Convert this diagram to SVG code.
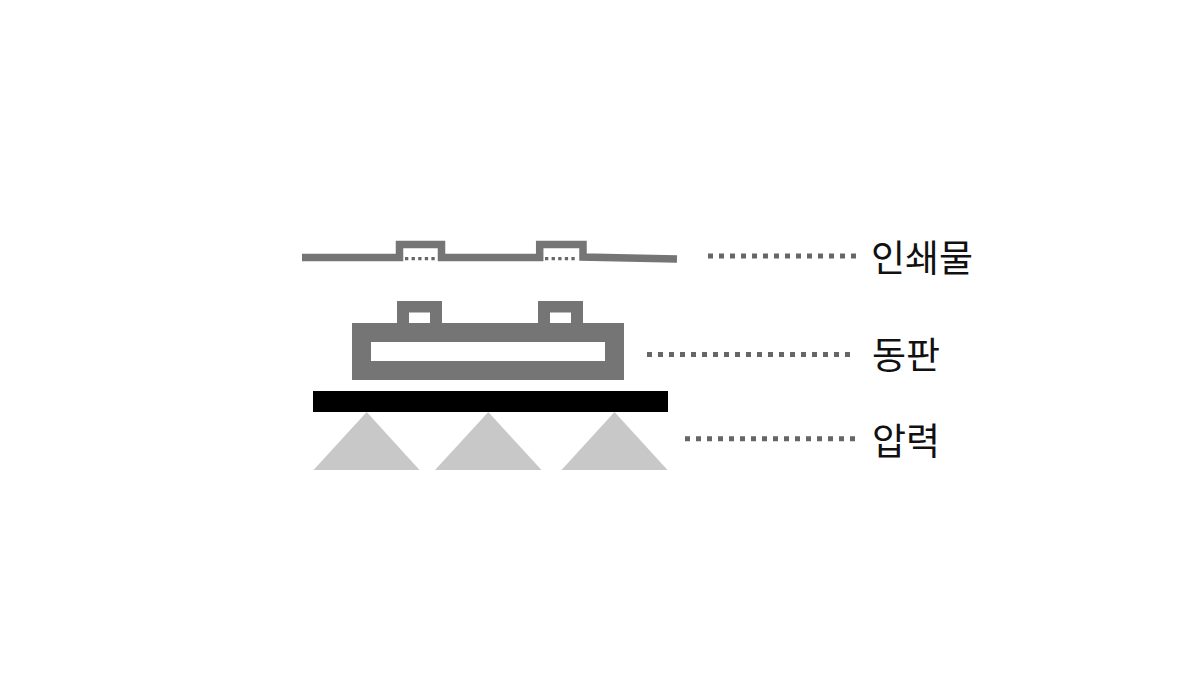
<svg xmlns="http://www.w3.org/2000/svg" width="1200" height="700" viewBox="0 0 1200 700">
  <style>
    .grey { fill: #757575; }
    .printline { fill: none; stroke: #757575; stroke-width: 7.5; stroke-linejoin: miter; }
    .gapdots { fill: none; stroke: #666666; stroke-width: 3.3; stroke-dasharray: 3.3 3.3; }
    .leader { fill: none; stroke: #666666; stroke-width: 5; stroke-dasharray: 5 6; }
    .tri { fill: #c8c8c8; }
    .label { font-family: "Noto Sans CJK KR", "Noto Sans", sans-serif; font-size: 37px; fill: #111111; }
  </style>
  <rect width="1200" height="700" fill="#ffffff"/>

  <g id="print-material">
    <path class="printline" d="M302,257.5 H399.5 V244.5 H441.5 V257.5 H539.7 V244.5 H583 V257 L677,259"/>
    <path class="gapdots" d="M405,258.7 H438"/>
    <path class="gapdots" d="M545,258.7 H578"/>
  </g>

  <g id="copper-plate">
    <path class="grey" fill-rule="evenodd" d="M352,323 H397 V301 H442 V323 H538 V301 H583 V323 H624 V380 H352 Z M371,342 V361 H605 V342 Z M409,312.5 V323 H430 V312.5 Z M550,312.5 V323 H571 V312.5 Z"/>
  </g>

  <g id="press-bar">
    <rect x="313" y="391" width="355" height="21" fill="#000000"/>
  </g>

  <g id="pressure">
    <polygon class="tri" points="313.5,470 366.7,412 419.5,470"/>
    <polygon class="tri" points="435,470 488.3,412 541.5,470"/>
    <polygon class="tri" points="561.5,470 614.5,412 667.5,470"/>
  </g>

  <g id="connectors">
    <path class="leader" d="M708,256 H857"/>
    <path class="leader" d="M647,354.5 H852"/>
    <path class="leader" d="M685,438.7 H857"/>
  </g>

  <g id="label-print">
    <text class="label" x="871" y="272">인쇄물</text>
  </g>
  <g id="label-plate">
    <text class="label" x="872" y="369">동판</text>
  </g>
  <g id="label-pressure">
    <text class="label" x="872" y="455">압력</text>
  </g>
</svg>
